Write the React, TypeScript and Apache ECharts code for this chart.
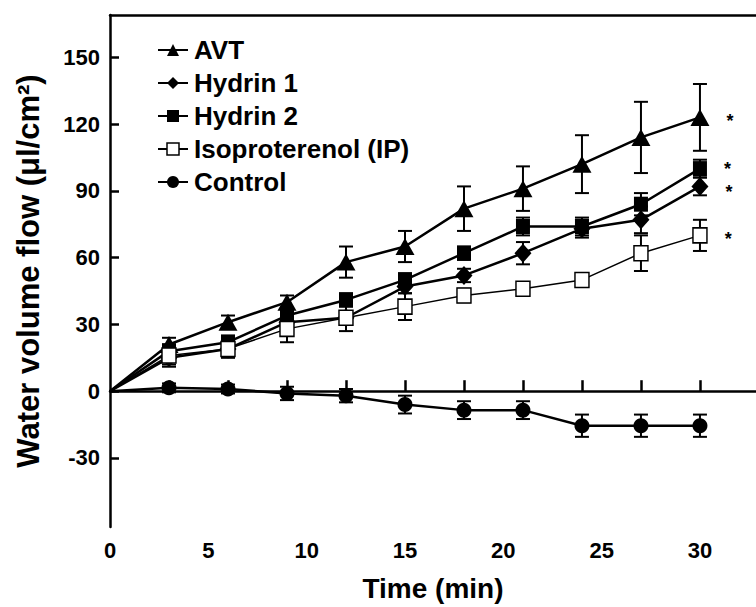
import React, { useEffect, useRef } from "react";
import * as echarts from "echarts";

const times = [0, 3, 6, 9, 12, 15, 18, 21, 24, 27, 30];
const xLabelValues = [0, 5, 10, 15, 20, 25, 30];
const xTickValues = [3, 6, 9, 12, 15, 18, 21, 24, 27, 30];
const yLabelValues = [-30, 0, 30, 60, 90, 120, 150];

const seriesNames = ["AVT", "Hydrin 1", "Hydrin 2", "Isoproterenol (IP)", "Control"];
const avt = [0, 21, 31, 40, 58, 65, 82, 91, 102, 114, 123];
const avtErr = [0, 3, 3, 3, 7, 7, 10, 10, 13, 16, 15];
const hydrin1 = [0, 15, 19, 31, 33, 47, 52, 62, 73, 77, 92];
const hydrin1Err = [0, 3, 3, 3, 3, 3, 3, 5, 4, 6, 4];
const hydrin2 = [0, 18, 22, 34, 41, 50, 62, 74, 74, 84, 100];
const hydrin2Err = [0, 3, 3, 3, 3, 3, 3, 4, 4, 5, 4];
const iso = [0, 16, 19, 28, 33, 38, 43, 46, 50, 62, 70];
const isoErr = [0, 5, 4, 6, 6, 6, 3, 3, 3, 8, 7];
const control = [0, 1.5, 1, -1, -2, -6, -8.5, -8.5, -15.5, -15.5, -15.5];
const controlErr = [0, 2, 2, 3, 3, 4, 4, 4, 5, 5, 5];
const significant = [true, true, true, true, false];

const FONT = "'Liberation Sans', Arial, Helvetica, sans-serif";

export default function App() {
  const ref = useRef<HTMLDivElement>(null);
  useEffect(() => {
    if (!ref.current) return;
    const chart = echarts.init(ref.current, undefined, { renderer: "svg" });
    const values = [avt, hydrin1, hydrin2, iso, control];
    const errs = [avtErr, hydrin1Err, hydrin2Err, isoErr, controlErr];
    const symbols: any[] = [
      { symbol: "triangle", size: [19, 17], fill: "#000" },
      { symbol: "diamond", size: [17, 19], fill: "#000" },
      { symbol: "rect", size: [14, 15], fill: "#000" },
      { symbol: "rect", size: [14, 15], fill: "#fff" },
      { symbol: "circle", size: 15, fill: "#000" },
    ];
    const lineWidths = [2.5, 2.5, 2.5, 1.5, 2.5];
    const starOffsets = [4, 6, 0, 4, 4];

    const errSeries = values.map((vals, i) => ({
      type: "custom",
      name: seriesNames[i] + " err",
      z: 1,
      silent: true,
      data: times
        .map((t, j) => [t, vals[j] - errs[i][j], vals[j] + errs[i][j]])
        .filter((d, j) => errs[i][j] > 0),
      renderItem: (params: any, api: any) => {
        const x = api.value(0);
        const lo = api.coord([x, api.value(1)]);
        const hi = api.coord([x, api.value(2)]);
        const hw = 7;
        const style = { stroke: "#000", lineWidth: 2 };
        return {
          type: "group",
          children: [
            { type: "line", shape: { x1: lo[0], y1: lo[1], x2: hi[0], y2: hi[1] }, style },
            { type: "line", shape: { x1: lo[0] - hw, y1: lo[1], x2: lo[0] + hw, y2: lo[1] }, style },
            { type: "line", shape: { x1: hi[0] - hw, y1: hi[1], x2: hi[0] + hw, y2: hi[1] }, style },
          ],
        };
      },
    }));

    const lineSeries = values.map((vals, i) => ({
      type: "line",
      name: seriesNames[i],
      z: 3,
      symbol: symbols[i].symbol,
      symbolSize: symbols[i].size,
      showAllSymbol: true,
      lineStyle: { color: "#000", width: lineWidths[i] },
      itemStyle: { color: symbols[i].fill, borderColor: "#000", borderWidth: i === 3 ? 1.5 : 0 },
      data: times.map((t, j) => {
        const item: any = { value: [t, vals[j]] };
        if (j === 0) item.symbol = "none";
        if (j === times.length - 1 && significant[i]) {
          item.label = {
            show: true,
            position: "right",
            distance: 17,
            formatter: "*",
            color: "#000",
            fontFamily: FONT,
            fontWeight: "bold",
            fontSize: 18,
            lineHeight: 14,
            offset: [0, starOffsets[i]],
          };
        }
        return item;
      }),
    }));

    chart.setOption({
      animation: false,
      backgroundColor: "#fff",
      textStyle: { fontFamily: FONT },
      grid: { left: 110, right: 0, top: 15, bottom: 79, containLabel: false },
      legend: {
        data: seriesNames.map((n, i) => ({
          name: n,
          itemStyle: { color: symbols[i].fill, borderColor: "#000", borderWidth: i === 3 ? 1.5 : 0 },
        })),
        orient: "vertical",
        left: 152,
        top: 32,
        itemWidth: 30,
        itemHeight: 15,
        itemGap: 7,
        selectedMode: false,
        textStyle: {
          color: "#000",
          fontFamily: FONT,
          fontWeight: "bold",
          fontSize: 26,
          lineHeight: 26,
          padding: [0, 0, 0, 1],
        },
      },
      xAxis: [
        {
          type: "value",
          min: 0,
          max: 32.85,
          name: "Time (min)",
          nameLocation: "middle",
          nameGap: 47,
          nameTextStyle: { color: "#000", fontWeight: "bold", fontSize: 28, fontFamily: FONT },
          splitLine: { show: false },
          axisLine: { lineStyle: { color: "#000", width: 2.5 } },
          axisTick: {
            inside: true,
            length: 11,
            customValues: xTickValues,
            lineStyle: { color: "#000", width: 2.5 },
          },
          axisLabel: {
            customValues: xLabelValues,
            color: "#000",
            fontWeight: "bold",
            fontSize: 22,
            fontFamily: FONT,
            margin: 12,
          },
        },
        {
          type: "value",
          position: "top",
          min: 0,
          max: 32.85,
          splitLine: { show: false },
          axisLine: { show: true, lineStyle: { color: "#000", width: 2.5 } },
          axisTick: { show: false },
          axisLabel: { show: false },
        },
      ],
      yAxis: {
        type: "value",
        min: -61,
        max: 169,
        name: "Water volume flow (μl/cm²)",
        nameLocation: "middle",
        nameRotate: 90,
        nameGap: 66,
        nameTextStyle: { color: "#000", fontWeight: "bold", fontSize: 31, fontFamily: FONT },
        splitLine: { show: false },
        axisLine: { show: true, lineStyle: { color: "#000", width: 2.5 } },
        axisTick: {
          show: true,
          inside: true,
          length: 9,
          customValues: yLabelValues,
          lineStyle: { color: "#000", width: 2.5 },
        },
        axisLabel: {
          customValues: yLabelValues,
          color: "#000",
          fontWeight: "bold",
          fontSize: 22,
          fontFamily: FONT,
          margin: 10,
        },
      },
      series: [...errSeries, ...lineSeries],
    });
    return () => chart.dispose();
  }, []);
  return (
    <div
      ref={ref}
      style={{ position: "absolute", left: 0, top: 0, width: 756, height: 607 }}
    />
  );
}
